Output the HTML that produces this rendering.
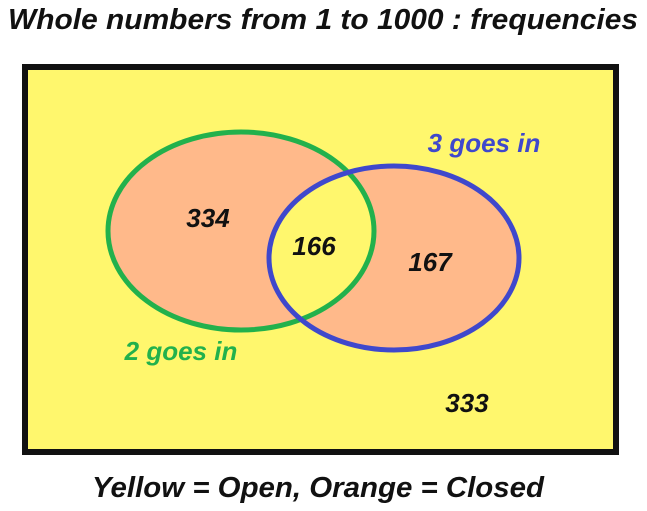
<!DOCTYPE html>
<html><head><meta charset="utf-8"><style>
html,body{margin:0;padding:0;background:#fff;}
svg{display:block;font-family:"Liberation Sans",sans-serif;font-style:italic;font-weight:bold;}
</style></head><body>
<svg id="chart" width="647" height="511" viewBox="0 0 647 511">
<text x="8" y="29" textLength="630" lengthAdjust="spacingAndGlyphs" font-size="29" fill="#111">Whole numbers from 1 to 1000 : frequencies</text>
<rect x="25" y="67" width="591" height="385" fill="#FFF76D" stroke="#111" stroke-width="6"/>
<g id="sets"></g>
<text x="92" y="497" textLength="452" lengthAdjust="spacingAndGlyphs" font-size="29" fill="#111">Yellow = Open, Orange = Closed</text>
</svg>
<script>
const setLabels = ["2 goes in", "3 goes in"];
const regionNames = ["only-2", "both", "only-3", "neither"];
const regionValues = [334, 166, 167, 333];
const NS = "http://www.w3.org/2000/svg";
const g = document.getElementById('sets');
function mk(tag, attrs){const e=document.createElementNS(NS,tag);for(const k in attrs)e.setAttribute(k,attrs[k]);return e;}
const A={cx:241,cy:231,rx:133,ry:99}, B={cx:394,cy:258,rx:125,ry:92};
const defs=mk('defs',{});const cp=mk('clipPath',{id:'clipA'});cp.appendChild(mk('ellipse',A));defs.appendChild(cp);g.appendChild(defs);
const fa=mk('ellipse',Object.assign({fill:'#FFB98A'},A));


g.appendChild(fa);
const fb=mk('ellipse',Object.assign({fill:'#FFB98A'},B));


g.appendChild(fb);
const fi=mk('ellipse',Object.assign({fill:'#FFF76D','clip-path':'url(#clipA)'},B));


g.appendChild(fi);
const sa=mk('ellipse',Object.assign({fill:'none',stroke:'#22B14C','stroke-width':5},A));


g.appendChild(sa);
const sb=mk('ellipse',Object.assign({fill:'none',stroke:'#3F48CC','stroke-width':5},B));


g.appendChild(sb);
const pos=[[208,227],[314,255],[430,271],[467,412]];
regionValues.forEach((v,i)=>{
  const t=mk('text',{x:pos[i][0],y:pos[i][1],'text-anchor':'middle','font-size':26,fill:'#111'});
  t.textContent=v;
  
  
  g.appendChild(t);
});
const la=mk('text',{x:181,y:360,'text-anchor':'middle','font-size':26,fill:'#22B14C'});
la.textContent=setLabels[0];


g.appendChild(la);
const lb=mk('text',{x:484,y:152,'text-anchor':'middle','font-size':26,fill:'#3F48CC'});
lb.textContent=setLabels[1];


g.appendChild(lb);
</script>
</body></html>
